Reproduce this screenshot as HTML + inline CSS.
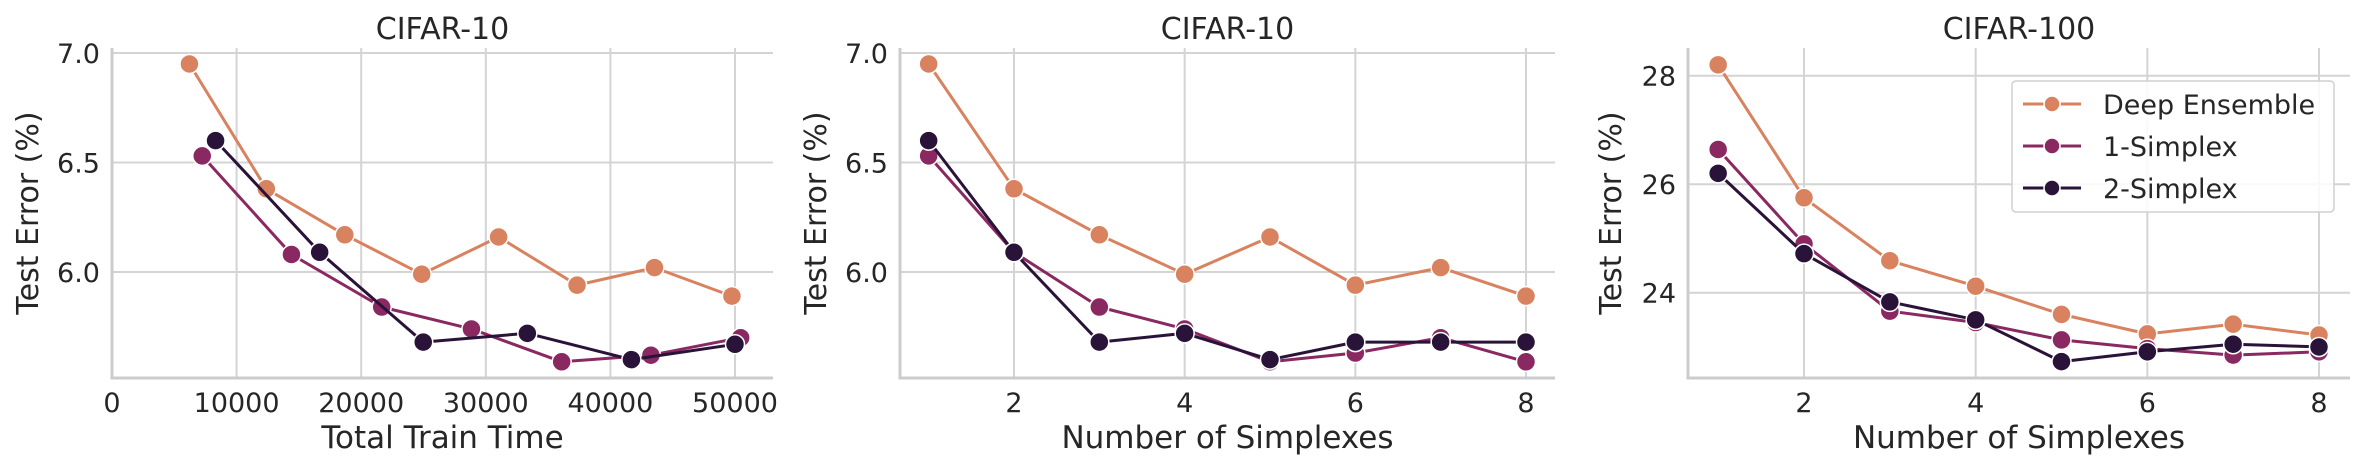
<!DOCTYPE html>
<html><head><meta charset="utf-8"><style>
html,body{margin:0;padding:0;background:#fff;}
svg{display:block;font-family:"DejaVu Sans","Liberation Sans",sans-serif;}
</style></head><body>
<svg id="fig" width="2358" height="471" viewBox="0 0 2358 471" xmlns="http://www.w3.org/2000/svg"></svg>
<script>
// ---- data ----
const seriesNames = ["Deep Ensemble", "1-Simplex", "2-Simplex"];
const seriesColors = ["#d9825f", "#8a2861", "#2a1338"];
// panel 1: total train time
const p1DeX = [6214, 12387, 18683, 24856, 31029, 37325, 43539, 49753];
const p1DeY = [6.95, 6.38, 6.17, 5.99, 6.16, 5.94, 6.02, 5.89];
const p1S1X = [7243, 14403, 21646, 28848, 36090, 43251, 50453];
const p1S1Y = [6.53, 6.08, 5.84, 5.74, 5.59, 5.62, 5.70];
const p1S2X = [8313, 16667, 24979, 33333, 41687, 50000];
const p1S2Y = [6.60, 6.09, 5.68, 5.72, 5.60, 5.67];
const p1XTicks = [0, 10000, 20000, 30000, 40000, 50000];
const p1YTicks = [6.0, 6.5, 7.0];
// panel 2: CIFAR-10 by simplex count
const nSimplex = [1, 2, 3, 4, 5, 6, 7, 8];
const p2DeY = [6.95, 6.38, 6.17, 5.99, 6.16, 5.94, 6.02, 5.89];
const p2S1Y = [6.53, 6.09, 5.84, 5.74, 5.59, 5.63, 5.70, 5.59];
const p2S2Y = [6.60, 6.09, 5.68, 5.72, 5.60, 5.68, 5.68, 5.68];
const simplexTicks = [2, 4, 6, 8];
const p2YTicks = [6.0, 6.5, 7.0];
// panel 3: CIFAR-100
const p3DeY = [28.2, 25.75, 24.59, 24.12, 23.60, 23.24, 23.42, 23.22];
const p3S1Y = [26.64, 24.90, 23.66, 23.45, 23.13, 22.97, 22.85, 22.91];
const p3S2Y = [26.20, 24.72, 23.83, 23.50, 22.73, 22.91, 23.05, 23.00];
const p3YTicks = [24, 26, 28];

const NS = "http://www.w3.org/2000/svg";
const svg = document.getElementById("fig");
function el(tag, attrs, parent, text) {
  const e = document.createElementNS(NS, tag);
  for (const k in attrs) e.setAttribute(k, attrs[k]);
  if (text !== undefined) e.textContent = text;
  (parent || svg).appendChild(e);
  return e;
}
function scale(d0, d1, r0, r1) { return v => r0 + (v - d0) * (r1 - r0) / (d1 - d0); }

function panel(cfg) {
  const g = el("g", {});
  
  
  const X = scale(cfg.xd[0], cfg.xd[1], cfg.xr[0], cfg.xr[1]);
  const Y = scale(cfg.yd[0], cfg.yd[1], cfg.yr[0], cfg.yr[1]);
  const L = cfg.left, R = cfg.right, T = 48, B = 378;
  cfg.xTicks.forEach(t => {
    const l = el("line", {x1: X(t), x2: X(t), y1: T, y2: B, stroke: "#d4d4d4", "stroke-width": 2}, g);
    
    
    const tx = el("text", {x: X(t), y: 412, "text-anchor": "middle", "font-size": 27, fill: "#262626"}, g, String(t));
    
    
  });
  cfg.yTicks.forEach(t => {
    const l = el("line", {x1: L, x2: R, y1: Y(t), y2: Y(t), stroke: "#d4d4d4", "stroke-width": 2}, g);
    
    
    const tx = el("text", {x: L - 12, y: Y(t) + 10, "text-anchor": "end", "font-size": 27, fill: "#262626"}, g, cfg.yFmt(t));
    
    
  });
  const s1 = el("line", {x1: L, x2: L, y1: T, y2: B + 1.5, stroke: "#cccccc", "stroke-width": 3}, g);
  
  
  const s2 = el("line", {x1: L - 1.5, x2: R, y1: B, y2: B, stroke: "#cccccc", "stroke-width": 3}, g);
  
  
  cfg.series.forEach((s, i) => {
    const sg = el("g", {}, g);
    
    
    const pts = s.x.map((xv, j) => X(xv).toFixed(1) + "," + Y(s.y[j]).toFixed(1)).join(" ");
    const pl = el("polyline", {points: pts, fill: "none", stroke: seriesColors[i], "stroke-width": 3, "stroke-linejoin": "round"}, sg);
    
    
    s.x.forEach((xv, j) => {
      const c = el("circle", {cx: X(xv), cy: Y(s.y[j]), r: 9.5, fill: seriesColors[i], stroke: "#fff", "stroke-width": 1.5}, sg);
      
      
    });
  });
  const ti = el("text", {x: (L + R) / 2, y: 39, "text-anchor": "middle", "font-size": 30, fill: "#262626"}, g, cfg.title);
  
  
  const xl = el("text", {x: (L + R) / 2, y: 448, "text-anchor": "middle", "font-size": 31, fill: "#262626"}, g, cfg.xLabel);
  
  
  const cy = (T + B) / 2;
  const yl = el("text", {x: cfg.yLabelX, y: cy, "text-anchor": "middle", "font-size": 30, fill: "#262626", transform: `rotate(-90 ${cfg.yLabelX} ${cy})`}, g, "Test Error (%)");
  
  
  return g;
}

panel({name: "panel-cifar10-train-time", title: "CIFAR-10", xLabel: "Total Train Time",
  left: 112, right: 773, xd: [0, 50000], xr: [112, 735], yd: [6.0, 7.0], yr: [272, 53],
  xTicks: p1XTicks, yTicks: p1YTicks, yFmt: t => t.toFixed(1), yLabelX: 38,
  series: [{x: p1DeX, y: p1DeY}, {x: p1S1X, y: p1S1Y}, {x: p1S2X, y: p1S2Y}]});
panel({name: "panel-cifar10-simplexes", title: "CIFAR-10", xLabel: "Number of Simplexes",
  left: 900, right: 1555, xd: [2, 8], xr: [1014, 1526], yd: [6.0, 7.0], yr: [272, 53],
  xTicks: simplexTicks, yTicks: p2YTicks, yFmt: t => t.toFixed(1), yLabelX: 826,
  series: [{x: nSimplex, y: p2DeY}, {x: nSimplex, y: p2S1Y}, {x: nSimplex, y: p2S2Y}]});
panel({name: "panel-cifar100-simplexes", title: "CIFAR-100", xLabel: "Number of Simplexes",
  left: 1688, right: 2350, xd: [2, 8], xr: [1804, 2319], yd: [24, 28], yr: [292.7, 75.7],
  xTicks: simplexTicks, yTicks: p3YTicks, yFmt: t => String(t), yLabelX: 1621,
  series: [{x: nSimplex, y: p3DeY}, {x: nSimplex, y: p3S1Y}, {x: nSimplex, y: p3S2Y}]});

const lg = el("g", {});


el("rect", {x: 2012, y: 81, width: 322, height: 131, rx: 4, fill: "#fff", "fill-opacity": 0.85, stroke: "#d0d0d0", "stroke-width": 1.5}, lg);
seriesNames.forEach((n, i) => {
  const eg = el("g", {}, lg);
  
  
  const y = 104 + i * 42;
  el("line", {x1: 2023, x2: 2081, y1: y, y2: y, stroke: seriesColors[i], "stroke-width": 3}, eg);
  el("circle", {cx: 2052, cy: y, r: 8, fill: seriesColors[i], stroke: "#fff", "stroke-width": 1.5}, eg);
  el("text", {x: 2103, y: y + 10, "font-size": 27, fill: "#262626"}, eg, n);
});
</script>
</body></html>
